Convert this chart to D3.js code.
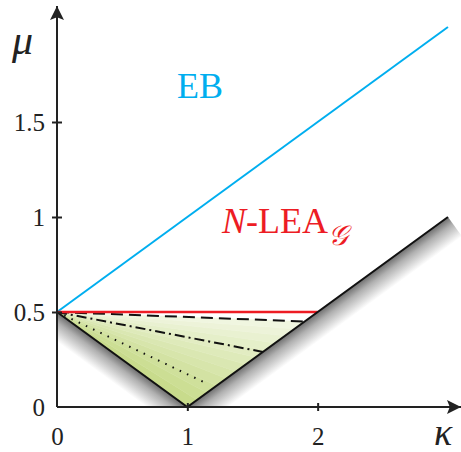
<!DOCTYPE html>
<html>
<head>
<meta charset="utf-8">
<script src="https://cdn.jsdelivr.net/npm/d3@7"></script>
<style>
  body { margin: 0; background: #fff; }
  svg { display: block; }
  svg text { font-family: "Liberation Serif", "Times New Roman", "DejaVu Serif", "Noto Serif", serif; }
</style>
</head>
<body>
<svg id="chart" width="461" height="452"></svg>
<script>
// data (kappa, mu)
const ebLine = [[0, 0.5], [3, 2]]
const boundary = [[0, 0.5], [1, 0], [3, 1]]
const redLine = [[0, 0.5], [2, 0.5]]
const dashedLine = [[0, 0.5], [1.9, 0.45]]
const dashDotLine = [[0, 0.5], [1.58, 0.29]]
const dottedLine = [[0, 0.5], [1.16, 0.12]]
const greenRegion = [[0, 0.5], [1, 0], [1.9, 0.45]]
const xTicks = [0, 1, 2]
const yTicks = [0, 0.5, 1, 1.5]

const svg = d3.select("#chart")
const x = d3.scaleLinear().domain([0, 3.1]).range([57, 461])
const y = d3.scaleLinear().domain([0, 2.1]).range([407, 8])
const line = d3.line().x(d => x(d[0])).y(d => y(d[1]))

const defs = svg.append("defs")
defs.append("clipPath").attr("id", "plot")
  .append("rect").attr("x", x(0)).attr("y", 0).attr("width", 461 - x(0)).attr("height", y(0))

// shadows under the lower boundary
const shadowG = svg.append("g").attr("clip-path", "url(#plot)")
function shadow(a, b, id) {
  const p1 = [x(a[0]), y(a[1])], p2 = [x(b[0]), y(b[1])]
  const dx = p2[0] - p1[0], dy = p2[1] - p1[1]
  const len = Math.hypot(dx, dy)
  const w = 24
  const nx = -dy / len * w, ny = dx / len * w
  const grad = defs.append("linearGradient").attr("id", id).attr("gradientUnits", "userSpaceOnUse")
    .attr("x1", p1[0]).attr("y1", p1[1]).attr("x2", p1[0] + nx).attr("y2", p1[1] + ny)
  grad.append("stop").attr("offset", 0).attr("stop-color", "#6e6e6e")
  grad.append("stop").attr("offset", 0.35).attr("stop-color", "#b0b0b0")
  grad.append("stop").attr("offset", 1).attr("stop-color", "#fff")
  shadowG.append("polygon")
    .attr("points", [p1, p2, [p2[0] + nx, p2[1] + ny], [p1[0] + nx, p1[1] + ny]].map(p => p.join(",")).join(" "))
    .attr("fill", `url(#${id})`)
}
shadow(boundary[0], boundary[1], "sh1")
shadow(boundary[1], boundary[2], "sh2")

// green fan
const apex = greenRegion[0], lo = greenRegion[1], hi = greenRegion[2]
const nWedges = 12
const green = d3.interpolateRgb("#c6da88", "#f2f7e4")
for (let i = 0; i < nWedges; i++) {
  const t0 = i / nWedges, t1 = (i + 1) / nWedges
  const q0 = [lo[0] + (hi[0] - lo[0]) * t0, lo[1] + (hi[1] - lo[1]) * t0]
  const q1 = [lo[0] + (hi[0] - lo[0]) * t1, lo[1] + (hi[1] - lo[1]) * t1]
  svg.append("path").attr("d", line([apex, q0, q1]) + "Z")
    .attr("fill", green((i + 0.5) / nWedges))
    .attr("stroke", green((i + 0.5) / nWedges)).attr("stroke-width", 0.5)
}

// EB line
svg.append("path").attr("d", line(ebLine)).attr("fill", "none").attr("stroke", "#00aeef").attr("stroke-width", 2)
// inner lines
svg.append("path").attr("d", line(dashedLine)).attr("fill", "none").attr("stroke", "#111").attr("stroke-width", 2).attr("stroke-dasharray", "12,6")
svg.append("path").attr("d", line(dashDotLine)).attr("fill", "none").attr("stroke", "#111").attr("stroke-width", 2).attr("stroke-dasharray", "10,4,2,4")
svg.append("path").attr("d", line(dottedLine)).attr("fill", "none").attr("stroke", "#111").attr("stroke-width", 2).attr("stroke-dasharray", "1.5,6.5")
// red line
svg.append("path").attr("d", line(redLine)).attr("fill", "none").attr("stroke", "#ed1c24").attr("stroke-width", 2.5)
// boundary
svg.append("path").attr("d", line(boundary)).attr("fill", "none").attr("stroke", "#111").attr("stroke-width", 2)

// axes
const xAxis = d3.axisBottom(x).tickValues(xTicks).tickSize(0).tickPadding(0).tickFormat(d3.format("d"))
const yAxis = d3.axisLeft(y).tickValues(yTicks).tickSize(0).tickPadding(12).tickFormat(d => String(d))
const gx = svg.append("g").attr("transform", `translate(0,${y(0)})`).call(xAxis)
const gy = svg.append("g").attr("transform", `translate(${x(0)},0)`).call(yAxis)
for (const g of [gx, gy]) {
  g.select(".domain").remove()
  g.selectAll("text").attr("font-size", 25).attr("fill", "#222").attr("font-family", null)
}
gx.selectAll("text").attr("dy", null).attr("y", 38)
gx.selectAll(".tick").filter(d => d !== 0).append("line").attr("y1", -4).attr("y2", 4).attr("stroke", "#222").attr("stroke-width", 2)
gy.selectAll(".tick").filter(d => d !== 0).append("line").attr("x1", -5).attr("x2", 5).attr("stroke", "#222").attr("stroke-width", 2)

defs.append("marker").attr("id", "arrow").attr("viewBox", "0 0 10 10").attr("refX", 10).attr("refY", 5)
  .attr("markerWidth", 7).attr("markerHeight", 7).attr("markerUnits", "strokeWidth").attr("orient", "auto")
  .append("path").attr("d", "M0,0L10,5L0,10L2,5Z").attr("fill", "#222")
svg.append("line").attr("x1", x(0)).attr("y1", y(0)).attr("x2", 461).attr("y2", y(0))
  .attr("stroke", "#222").attr("stroke-width", 2).attr("marker-end", "url(#arrow)")
svg.append("line").attr("x1", x(0)).attr("y1", y(0)).attr("x2", x(0)).attr("y2", 6)
  .attr("stroke", "#222").attr("stroke-width", 2).attr("marker-end", "url(#arrow)")

// axis titles
svg.append("text").attr("x", 12).attr("y", 54).attr("font-size", 42).attr("font-style", "italic").attr("fill", "#222").text("μ")
svg.append("text").attr("x", 434).attr("y", 445).attr("font-size", 38).attr("font-style", "italic").attr("fill", "#222").text("κ")

// labels
svg.append("text").attr("x", 177).attr("y", 98).attr("font-size", 36).attr("fill", "#00aeef").text("EB")
const lab = svg.append("text").attr("x", 222).attr("y", 233).attr("font-size", 36).attr("fill", "#ed1c24")
lab.append("tspan").attr("font-style", "italic").text("N")
lab.append("tspan").text("-LEA")
lab.append("tspan").attr("font-size", 28).attr("font-style", "italic").attr("dy", 12).text("𝒢")
</script>
</body>
</html>
